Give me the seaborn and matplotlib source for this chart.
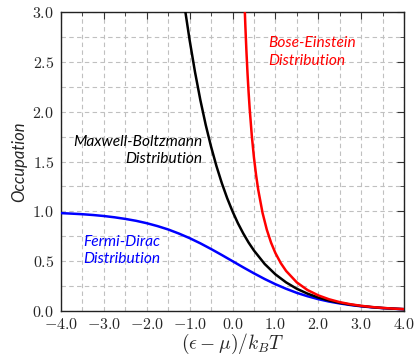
import matplotlib
matplotlib.use("Agg")
import matplotlib.pyplot as plt
import seaborn as sns
import pandas as pd
from matplotlib.ticker import MultipleLocator, FormatStrFormatter

# ---- data ----
fd_x = [-4.0, -3.75, -3.5, -3.25, -3.0, -2.75, -2.5, -2.25, -2.0, -1.75, -1.5, -1.25,
        -1.0, -0.75, -0.5, -0.25, 0.0, 0.25, 0.5, 0.75, 1.0, 1.25, 1.5, 1.75, 2.0,
        2.25, 2.5, 2.75, 3.0, 3.25, 3.5, 3.75, 4.0]
fd_y = [0.982, 0.977, 0.971, 0.963, 0.953, 0.940, 0.924, 0.905, 0.881, 0.852, 0.818, 0.777,
        0.731, 0.679, 0.622, 0.562, 0.500, 0.438, 0.378, 0.321, 0.269, 0.223, 0.182, 0.148, 0.119,
        0.095, 0.076, 0.060, 0.047, 0.037, 0.029, 0.023, 0.018]

mb_x = [-1.1, -1.0, -0.875, -0.75, -0.625, -0.5, -0.375, -0.25, -0.125, 0.0, 0.125, 0.25,
        0.375, 0.5, 0.75, 1.0, 1.25, 1.5, 1.75, 2.0, 2.25, 2.5, 2.75, 3.0, 3.25, 3.5, 3.75, 4.0]
mb_y = [3.004, 2.718, 2.399, 2.117, 1.868, 1.649, 1.455, 1.284, 1.133, 1.000, 0.882, 0.779,
        0.687, 0.607, 0.472, 0.368, 0.287, 0.223, 0.174, 0.135, 0.105, 0.082, 0.064, 0.050,
        0.039, 0.030, 0.024, 0.018]

be_x = [0.288, 0.3, 0.325, 0.35, 0.375, 0.4, 0.45, 0.5, 0.55, 0.6, 0.7, 0.8, 0.9, 1.0,
        1.125, 1.25, 1.5, 1.75, 2.0, 2.25, 2.5, 2.75, 3.0, 3.25, 3.5, 3.75, 4.0]
be_y = [3.000, 2.858, 2.604, 2.386, 2.198, 2.033, 1.760, 1.541, 1.364, 1.216, 0.986, 0.816,
        0.685, 0.582, 0.481, 0.402, 0.287, 0.210, 0.157, 0.118, 0.089, 0.068, 0.052, 0.040,
        0.031, 0.024, 0.019]

x_ticks = [-4.0, -3.0, -2.0, -1.0, 0.0, 1.0, 2.0, 3.0, 4.0]
y_ticks = [0.0, 0.5, 1.0, 1.5, 2.0, 2.5, 3.0]

sns.set_style("white")
plt.rcParams["mathtext.fontset"] = "cm"
plt.rcParams["font.family"] = ["Lato", "DejaVu Sans"]

fig, ax = plt.subplots(figsize=(4.17, 3.57), dpi=100)
fig.subplots_adjust(left=61/417, right=404/417, top=1-12/357, bottom=1-311/357)

lw = 1.8
sns.lineplot(x=fd_x, y=fd_y, color="#0000ff", lw=lw, ax=ax, sort=False, estimator=None, zorder=3)
sns.lineplot(x=mb_x, y=mb_y, color="black", lw=lw, ax=ax, sort=False, estimator=None, zorder=3)
sns.lineplot(x=be_x, y=be_y, color="#ff0000", lw=lw, ax=ax, sort=False, estimator=None, zorder=4)

ax.set_xlim(-4, 4)
ax.set_ylim(0, 3)
ax.set_xticks(x_ticks)
ax.set_yticks(y_ticks)
ax.xaxis.set_minor_locator(MultipleLocator(0.5))
ax.yaxis.set_minor_locator(MultipleLocator(0.25))
ax.xaxis.set_major_formatter(FormatStrFormatter(r"$%.1f$"))
ax.yaxis.set_major_formatter(FormatStrFormatter(r"$%.1f$"))

ax.grid(True, which="both", color="#c0c0c0", linestyle=(0, (4, 3)), linewidth=0.8)
ax.set_axisbelow(True)
ax.tick_params(which="both", direction="in", top=True, right=True, color="#333333")
ax.tick_params(which="major", length=5, width=0.8, labelsize=11.5)
ax.tick_params(axis="x", which="major", pad=4)
ax.tick_params(axis="y", which="major", pad=5)
ax.tick_params(which="minor", length=3, width=0.6)
for s in ax.spines.values():
    s.set_color("#222222")
    s.set_linewidth(1.0)
    s.set_visible(True)

ax.set_xlabel(r"$(\epsilon-\mu)/k_BT$", fontsize=14, labelpad=0)
ax.set_ylabel("Occupation", fontsize=12, style="italic", labelpad=4)

ax.text(0.83, 2.6, "Bose-Einstein\nDistribution", color="#ff0000", fontsize=11.2,
        style="italic", ha="left", va="center", linespacing=1.3)
ax.text(-0.71, 1.61, "Maxwell-Boltzmann\nDistribution", color="black", fontsize=11.2,
        style="italic", ha="right", va="center", multialignment="right", linespacing=1.3)
ax.text(-3.49, 0.61, "Fermi-Dirac\nDistribution", color="#0000ff", fontsize=11.2,
        style="italic", ha="left", va="center", linespacing=1.3)

fig.savefig("out.png", dpi=100)
